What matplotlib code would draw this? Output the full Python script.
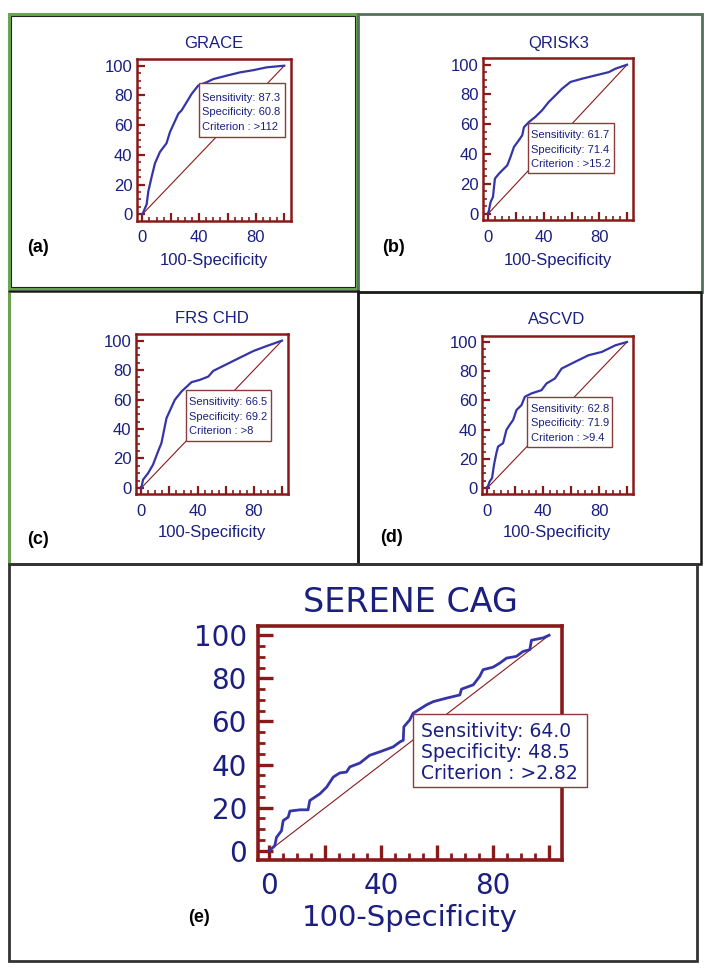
import matplotlib
matplotlib.use("Agg")
import matplotlib.pyplot as plt
from matplotlib.patches import Rectangle
from matplotlib.ticker import MultipleLocator, FuncFormatter

# ---------------- data ----------------
names = ["GRACE", "QRISK3", "FRS CHD", "ASCVD", "SERENE CAG"]
panel_tags = ["(a)", "(b)", "(c)", "(d)", "(e)"]

grace_fpr = [0, 3, 4.2, 6.6, 8.9, 12.4, 17, 19.5, 25.4, 27.7, 31.2, 34.7, 39.4, 45.3, 50, 59.4, 68.8, 78.2, 87.6, 100]
grace_tpr = [0, 6.7, 15.5, 25.5, 34.4, 42, 47.8, 55.5, 67.8, 70, 75.5, 81, 86.7, 88.9, 91, 93.3, 95.5, 97, 98.9, 100]

qrisk_fpr = [0, 1.7, 3.4, 4.8, 7.7, 10, 13.7, 16, 18.5, 22, 24.5, 25.7, 29.3, 34, 38.8, 43.6, 48.4, 53.2, 59.2, 67.6, 77.2, 86.8, 91.6, 100]
qrisk_tpr = [0, 7.8, 11.2, 23.5, 26.8, 29, 32.4, 38, 44.7, 49.2, 52.6, 58, 61.5, 65, 69.4, 75, 79.4, 83.9, 88.4, 90.6, 92.8, 95, 97.3, 100]

frs_fpr = [0, 1.2, 4.8, 8.3, 11.9, 14.3, 17.9, 23.8, 28.6, 35.7, 41.7, 47.6, 51.2, 60.7, 70.2, 79.8, 89.3, 100]
frs_tpr = [0, 5.6, 10, 15.8, 24.8, 30.5, 47.4, 59.8, 65.5, 71.8, 73.4, 75.6, 79.5, 84, 88.5, 93, 96.4, 100]

ascvd_fpr = [0, 1.7, 3.4, 4.8, 6.5, 7.7, 11.3, 12.5, 13.7, 16, 18.5, 20.9, 24.5, 26.9, 31.7, 38.8, 42.4, 48.4, 53.2, 62.8, 72.4, 82, 91.6, 100]
ascvd_tpr = [0, 4.5, 6.8, 15.9, 23.9, 28.4, 30.7, 35.2, 39.8, 43.2, 46.6, 53.4, 56.8, 62.5, 64.8, 67, 71.6, 75, 81.8, 86.4, 90.9, 93.2, 97.7, 100]

serene_fpr = [0, 2, 2.6, 4.4, 5, 6.8, 7.4, 11, 13.9, 14.5, 18.1, 20.5, 22.9, 25.2, 27.6, 28.8, 32.4, 35.9, 39.5, 44.3, 46.7, 47.9, 48.1, 50.2, 51.4, 56.2, 58.6, 63.3, 68.1, 68.7, 72.9, 75.2, 76.4, 80, 82.4, 84.8, 88.3, 90.7, 93.1, 93.7, 97.9, 100]
serene_tpr = [0, 2.3, 6.2, 9.3, 14, 15.6, 18.4, 19, 19, 23.3, 26.4, 29.5, 34.2, 36.1, 36.5, 38.9, 40.7, 44.3, 45.9, 48.2, 50.5, 51.3, 57.5, 60.7, 63.8, 67.7, 69.2, 70.8, 72.3, 75, 77, 80.9, 84, 85.2, 87.1, 89.4, 90.2, 92.5, 93.3, 97.7, 98.8, 100]

fprs = [grace_fpr, qrisk_fpr, frs_fpr, ascvd_fpr, serene_fpr]
tprs = [grace_tpr, qrisk_tpr, frs_tpr, ascvd_tpr, serene_tpr]
sensitivity = ["87.3", "61.7", "66.5", "62.8", "64.0"]
specificity = ["60.8", "71.4", "69.2", "71.9", "48.5"]
criterion = [">112", ">15.2", ">8", ">9.4", ">2.82"]

y_ticks = [0, 20, 40, 60, 80, 100]
x_tick_labels = [0, 40, 80]

# ---------------- layout (pixels) ----------------
W, H, DPI = 715, 973, 100
NAVY = "#1a1f80"
CURVE = "#3535a8"
MAROON = "#8a1a1a"
BOXEDGE = "#8c3b3b"

ax_px = [(136.7, 59.3, 290.7, 220.7), (482.7, 58.3, 633.3, 220.0),
         (135.7, 334.3, 288.3, 494.3), (481.7, 335.7, 633.3, 494.3),
         (258.0, 626.0, 561.7, 860.0)]
title_px = [(213.5, 43.5), (558.3, 43.5), (212.0, 318.5), (556.7, 319.0), (410.0, 603.0)]
xlabel_px = [(213.5, 260.0), (558.3, 260.0), (212.0, 533.0), (556.7, 533.0), (410.0, 918.0)]
tag_px = [(27, 248), (382, 248), (27, 540), (380, 537), (188, 918)]
box_px = [(199.0, 83.3, 285.0, 136.7), (528.3, 122.7, 614.3, 173.3),
          (185.7, 390.0, 270.7, 440.7), (527.3, 396.7, 611.7, 447.3),
          (413.0, 714.0, 587.0, 787.0)]
boxtext_px = [(202.3, [98.3, 112.3, 126.7]), (531.0, [135.0, 150.0, 164.3]),
              (189.0, [402.3, 416.7, 430.7]), (530.7, [409.3, 423.3, 438.3]),
              (420.7, [731.7, 752.7, 773.3])]

fig = plt.figure(figsize=(W / DPI, H / DPI), dpi=DPI)
fig.patch.set_facecolor("white")


def frect(x0, y0, x1, y1):
    return [x0 / W, 1 - y1 / H, (x1 - x0) / W, (y1 - y0) / H]


def add_border(x0, y0, x1, y1, color, lw):
    r = frect(x0, y0, x1, y1)
    fig.add_artist(Rectangle((r[0], r[1]), r[2], r[3], transform=fig.transFigure,
                             facecolor="none", edgecolor=color, lw=lw, zorder=0.5))


# panel borders
add_border(9, 14, 356.5, 288, "#6aa84f", 2.2)
add_border(10.5, 15.5, 355, 286.5, "#222222", 0.8)
add_border(358, 14, 701.5, 291.5, "#55705a", 2.0)
add_border(9, 291, 358, 564, "#1a1a1a", 1.8)
add_border(9, 292, 9.01, 564, "#6aa84f", 2.0)
add_border(358, 292, 701, 564, "#1a1a1a", 1.8)
add_border(9, 564, 697, 961, "#333333", 2.0)

for i in range(5):
    big = i == 4
    fam = "DejaVu Sans" if big else "Liberation Sans"
    ax = fig.add_axes(frect(*ax_px[i]))
    ax.plot(fprs[i], tprs[i], color=CURVE, lw=2.0 if big else 1.6, zorder=3)
    ax.plot([0, 100], [0, 100], color=MAROON, lw=0.8, zorder=2)
    ax.set_xlim(-4, 104.5)
    ax.set_ylim(-4.3, 104.3)
    for s in ax.spines.values():
        s.set_color(MAROON)
        s.set_linewidth(2.6 if big else 1.8)
    ax.xaxis.set_major_locator(MultipleLocator(20))
    ax.xaxis.set_minor_locator(MultipleLocator(5))
    ax.yaxis.set_major_locator(MultipleLocator(20))
    ax.yaxis.set_minor_locator(MultipleLocator(5))
    ax.xaxis.set_major_formatter(FuncFormatter(
        lambda v, p: f"{int(round(v))}" if int(round(v)) in x_tick_labels else ""))
    ax.yaxis.set_major_formatter(FuncFormatter(
        lambda v, p: f"{int(round(v))}" if int(round(v)) in y_ticks else ""))
    ax.tick_params(which="both", direction="in", color=MAROON, labelcolor=NAVY,
                   top=False, right=False)
    if big:
        ax.tick_params(which="major", length=11, width=2.4, labelsize=20)
        ax.tick_params(which="minor", length=5, width=2.0)
        ax.tick_params(axis="x", which="major", pad=9)
        ax.tick_params(axis="y", which="major", pad=8)
    else:
        ax.tick_params(which="major", length=6, width=1.6, labelsize=12)
        ax.tick_params(which="minor", length=3, width=1.2)
        ax.tick_params(axis="x", which="major", pad=7)
        ax.tick_params(axis="y", which="major", pad=3)
    for lab in ax.get_xticklabels() + ax.get_yticklabels():
        lab.set_family(fam)

    tx, ty = title_px[i]
    fig.text(tx / W, 1 - ty / H, names[i], ha="center", va="center", color=NAVY,
             family=fam, fontsize=24 if big else 12)
    lx, ly = xlabel_px[i]
    fig.text(lx / W, 1 - ly / H, "100-Specificity", ha="center", va="center", color=NAVY,
             family=fam, fontsize=21 if big else 12)
    gx, gy = tag_px[i]
    fig.text(gx / W, 1 - gy / H, panel_tags[i], ha="left", va="center", color="black",
             family="Liberation Sans", fontweight="bold", fontsize=13)

    r = frect(*box_px[i])
    fig.add_artist(Rectangle((r[0], r[1]), r[2], r[3], transform=fig.transFigure,
                             facecolor="white", edgecolor=BOXEDGE, lw=1.0, zorder=4))
    bx, bys = boxtext_px[i]
    lines = [f"Sensitivity: {sensitivity[i]}", f"Specificity: {specificity[i]}",
             f"Criterion : {criterion[i]}"]
    for s, by in zip(lines, bys):
        fig.text(bx / W, 1 - by / H, s, ha="left", va="center", color=NAVY,
                 family=fam, fontsize=13.5 if big else 8, zorder=5)

fig.savefig("out.png", dpi=DPI, facecolor="white")
